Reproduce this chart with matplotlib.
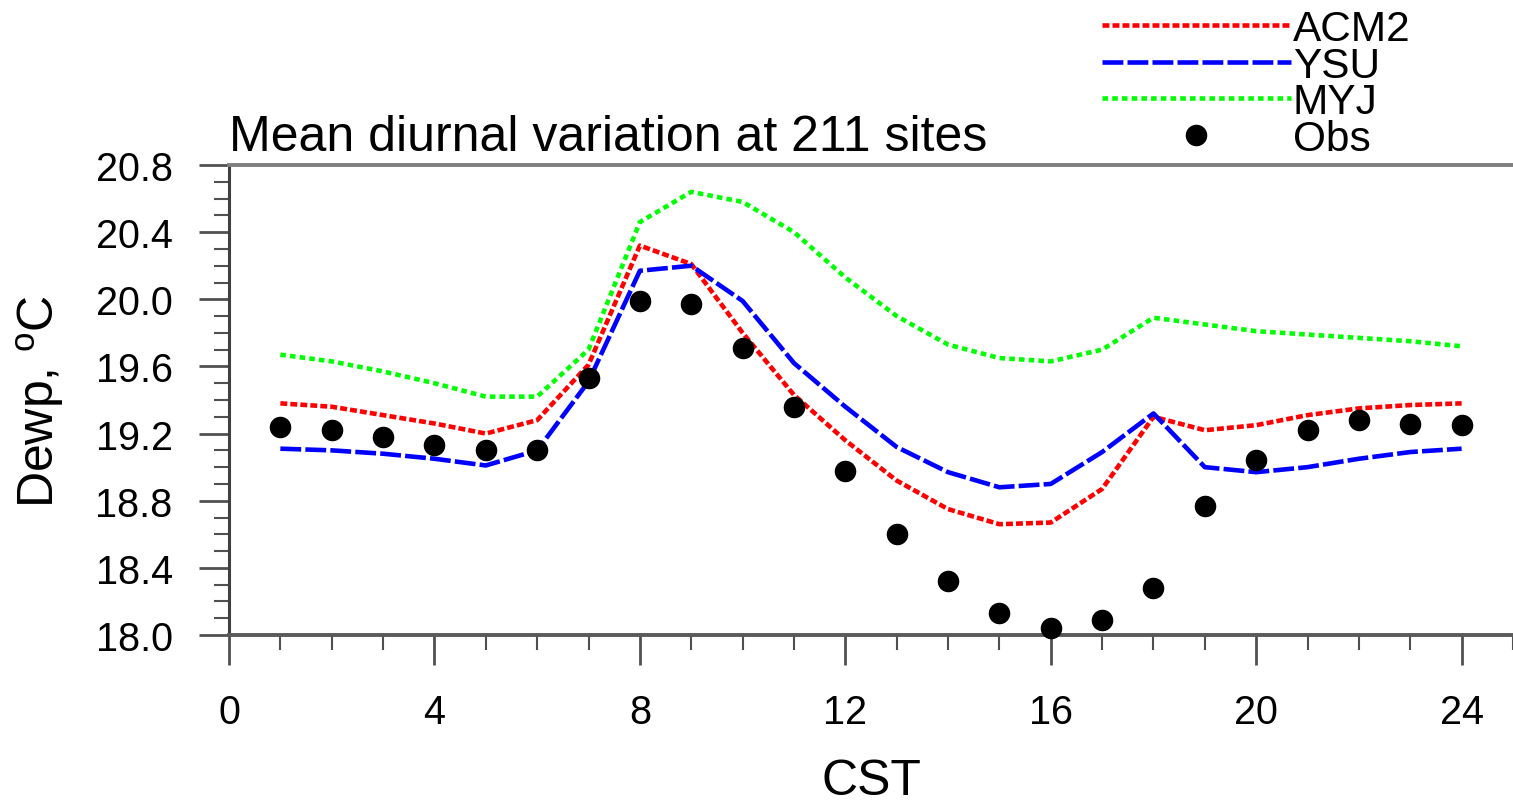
import matplotlib
matplotlib.use("Agg")
import matplotlib.pyplot as plt
from matplotlib.ticker import MultipleLocator, FormatStrFormatter

plt.rcParams['font.family'] = ['Liberation Sans', 'DejaVu Sans']
plt.rcParams['mathtext.fontset'] = 'custom'
plt.rcParams['mathtext.rm'] = 'Liberation Sans'
plt.rcParams['lines.scale_dashes'] = False

hours = list(range(1, 25))
acm2 = [19.38, 19.36, 19.31, 19.26, 19.20, 19.28, 19.61, 20.32, 20.21, 19.80,
        19.43, 19.16, 18.92, 18.75, 18.66, 18.67, 18.87, 19.30, 19.22, 19.25,
        19.31, 19.35, 19.37, 19.38]
ysu = [19.11, 19.10, 19.08, 19.05, 19.01, 19.10, 19.51, 20.17, 20.20, 19.99,
       19.62, 19.36, 19.12, 18.97, 18.88, 18.90, 19.09, 19.32, 19.00, 18.97,
       19.00, 19.05, 19.09, 19.11]
myj = [19.67, 19.63, 19.57, 19.50, 19.42, 19.42, 19.70, 20.46, 20.64, 20.58,
       20.40, 20.13, 19.90, 19.73, 19.65, 19.63, 19.70, 19.89, 19.85, 19.81,
       19.79, 19.77, 19.75, 19.72]
obs = [19.24, 19.22, 19.18, 19.13, 19.10, 19.10, 19.53, 19.99, 19.97, 19.71,
       19.36, 18.98, 18.60, 18.32, 18.13, 18.04, 18.09, 18.28, 18.77, 19.04,
       19.22, 19.28, 19.26, 19.25]

series_names = ['ACM2', 'YSU', 'MYJ', 'Obs']
title = 'Mean diurnal variation at 211 sites'

W, H = 1513, 803
fig = plt.figure(figsize=(W / 100, H / 100), dpi=100)
ax = fig.add_axes([229 / W, 1 - 636 / H, 1 - 229 / W, (636 - 166) / H])

lw = 3.3
l1, = ax.plot(hours, acm2, color='#ff0000', lw=lw, dashes=(5, 2.2), label=series_names[0])
l2, = ax.plot(hours, ysu, color='#0000ff', lw=lw, dashes=(15, 3), label=series_names[1])
l3, = ax.plot(hours, myj, color='#00ff00', lw=lw, dashes=(4, 3), label=series_names[2])
l4, = ax.plot(hours, obs, 'o', color='black', ms=14.5, clip_on=False, zorder=5,
              label=series_names[3])

ax.set_xlim(0, 25)
ax.set_ylim(18.0, 20.8)
ax.xaxis.set_major_locator(MultipleLocator(4))
ax.xaxis.set_minor_locator(MultipleLocator(1))
ax.yaxis.set_major_locator(MultipleLocator(0.4))
ax.yaxis.set_minor_locator(MultipleLocator(0.1))
ax.yaxis.set_major_formatter(FormatStrFormatter('%.1f'))

tickc = '#505050'
ax.tick_params(axis='x', which='major', direction='out', length=21.5, width=2.0,
               color=tickc, labelsize=28.5, pad=20, top=False)
ax.tick_params(axis='x', which='minor', direction='out', length=10.5, width=1.5,
               color=tickc, top=False)
ax.tick_params(axis='y', which='major', direction='out', length=21.5, width=2.0,
               color=tickc, labelsize=28.5, pad=19, right=False)
ax.tick_params(axis='y', which='minor', direction='out', length=10.5, width=1.5,
               color=tickc, right=False)

ax.spines['right'].set_visible(False)
ax.spines['left'].set_color('#404040')
ax.spines['left'].set_linewidth(2.2)
ax.spines['bottom'].set_color('#5a5a5a')
ax.spines['bottom'].set_linewidth(2.8)
ax.spines['top'].set_color('#7f7f7f')
ax.spines['top'].set_linewidth(2.8)

ax.set_xlabel('CST', fontsize=36, labelpad=20)
ax.set_ylabel(r'Dewp, $^{\rm o}$C', fontsize=36, labelpad=21)
ax.set_title(title, loc='left', fontsize=36, pad=11)

leg = fig.legend(handles=[l1, l2, l3, l4], loc='upper left',
                 bbox_to_anchor=(1102 / W, 1 - 10 / H), frameon=False,
                 fontsize=30.5, borderpad=0, borderaxespad=0,
                 handlelength=4.45, handletextpad=0.05, labelspacing=-0.08,
                 numpoints=1)

fig.savefig('out.png', dpi=100)
